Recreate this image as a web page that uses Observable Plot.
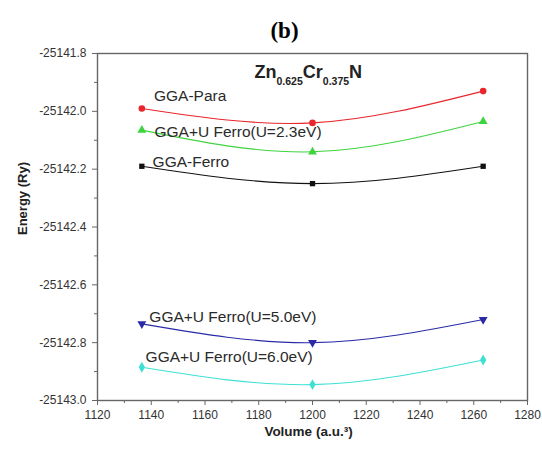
<!DOCTYPE html>
<html>
<head>
<meta charset="utf-8">
<script src="https://cdn.jsdelivr.net/npm/d3@7"></script>
<script src="https://cdn.jsdelivr.net/npm/@observablehq/plot@0.6"></script>
<style>
  html, body { margin: 0; padding: 0; background: #fff; }
  #chart { width: 542px; height: 454px; }
</style>
</head>
<body>
<div id="chart"></div>
<script>
// ---- data ----
const volumes = [1136.5, 1200, 1263.5];
const seriesNames = ["GGA-Para", "GGA+U Ferro(U=2.3eV)", "GGA-Ferro", "GGA+U Ferro(U=5.0eV)", "GGA+U Ferro(U=6.0eV)"];
const ggaPara   = [-25141.99, -25142.04, -25141.93];
const ggaU23    = [-25142.065, -25142.14, -25142.035];
const ggaFerro  = [-25142.19, -25142.25, -25142.19];
const ggaU50    = [-25142.735, -25142.80, -25142.72];
const ggaU60    = [-25142.885, -25142.945, -25142.86];
const seriesColors  = ["#e8262c", "#3fd43f", "#111111", "#2a2aa8", "#3ee0d6"];
const seriesSymbols = ["circle", "triangle", "square", "triangle", "diamond"];
const seriesRotate  = [0, 0, 0, 180, 0];
// label anchor positions (data units)
const labelX = [1141.0, 1141.2, 1140.5, 1139.3, 1137.9];
const labelY = [-25141.948, -25142.073, -25142.176, -25142.712, -25142.850];

const xTicks = [1120, 1140, 1160, 1180, 1200, 1220, 1240, 1260, 1280];
const xMinor = [1130, 1150, 1170, 1190, 1210, 1230, 1250, 1270];
const yTicks = [-25143.0, -25142.8, -25142.6, -25142.4, -25142.2, -25142.0, -25141.8];
const yMinor = [-25142.9, -25142.7, -25142.5, -25142.3, -25142.1, -25141.9];

const xDomain = [1120, 1280];
const yDomain = [-25143.0, -25141.8];

const panelTitle = "(b)";
const compound = [["Zn", false], ["0.625", true], ["Cr", false], ["0.375", true], ["N", false]];
const xLabel = "Volume (a.u.³)";
const yLabel = "Energy (Ry)";

// ---- build tables ----
const allValues = [ggaPara, ggaU23, ggaFerro, ggaU50, ggaU60];
const rows = [];
allValues.forEach((vals, i) => {
  vals.forEach((v, j) => rows.push({series: seriesNames[i], idx: i, x: volumes[j], y: v}));
});
const labels = seriesNames.map((s, i) => ({text: s, x: labelX[i], y: labelY[i]}));

const marks = [];
seriesNames.forEach((s, i) => {
  const d = rows.filter(r => r.idx === i);
  marks.push(Plot.line(d, {x: "x", y: "y", curve: "natural", stroke: seriesColors[i], strokeWidth: 1.1}));
});
seriesNames.forEach((s, i) => {
  const d = rows.filter(r => r.idx === i);
  marks.push(Plot.dot(d, {x: "x", y: "y", symbol: seriesSymbols[i], fill: seriesColors[i], r: seriesSymbols[i] === "square" ? 3 : 3.3, rotate: seriesRotate[i], stroke: "none"}));
});

const fmt = d => d.toFixed(1);
const axisStyle = {fill: "#333", fontSize: 12};

const chart = Plot.plot({
  width: 542,
  height: 454,
  marginLeft: 97,
  marginRight: 15,
  marginTop: 53,
  marginBottom: 54,
  style: {fontFamily: "Arial, 'Liberation Sans', sans-serif", background: "#fff"},
  x: {domain: xDomain},
  y: {domain: yDomain},
  marks: [
    Plot.axisY(yTicks, {tickFormat: fmt, tickSize: 5, tickPadding: 6, stroke: "#666", label: null, ...axisStyle}),
    Plot.axisY(yMinor, {tickFormat: () => "", tickSize: 3, stroke: "#666", label: null}),
    Plot.axisX(xTicks, {tickFormat: d => String(d), tickSize: 5, tickPadding: 5, stroke: "#666", label: null, ...axisStyle}),
    Plot.axisX(xMinor, {tickFormat: () => "", tickSize: 3, stroke: "#666", label: null}),
    Plot.frame({stroke: "#666", strokeWidth: 1.4}),
    ...marks,
    Plot.text(labels, {x: "x", y: "y", text: "text", textAnchor: "start", fontSize: 15.5, fill: "#2a2a2a"}),
    Plot.text([panelTitle], {frameAnchor: "top", lineAnchor: "middle", dx: -28, dy: -23, text: d => d, fontSize: 23, fontWeight: "bold", fontFamily: "'Liberation Serif', 'Times New Roman', serif", fill: "#000"}),
    Plot.text(["__compound__"], {frameAnchor: "top-left", lineAnchor: "bottom", dx: 157, dy: 24, text: d => d, textAnchor: "start", fontSize: 18, fontWeight: "bold", fill: "#222"}),
    Plot.text([yLabel], {frameAnchor: "left", dx: -75, dy: 8, rotate: -90, text: d => d, fontSize: 13, fontWeight: "bold", fill: "#222"}),
    Plot.text([xLabel], {frameAnchor: "bottom", lineAnchor: "middle", dx: -4, dy: 31, text: d => d, fontSize: 13.5, fontWeight: "bold", fill: "#222"})
  ]
});

// replace compound placeholder with sub-scripted tspans
d3.select(chart).selectAll("text").filter(function() { return this.textContent === "__compound__"; }).each(function() {
  const t = d3.select(this);
  t.text(null);
  let prevSub = false;
  compound.forEach(([str, sub]) => {
    const ts = t.append("tspan").text(str);
    if (sub) { ts.attr("font-size", 10.5); if (!prevSub) ts.attr("dy", 7); }
    else if (prevSub) ts.attr("dy", -7);
    prevSub = sub;
  });
});

document.getElementById("chart").appendChild(chart);
</script>
</body>
</html>
